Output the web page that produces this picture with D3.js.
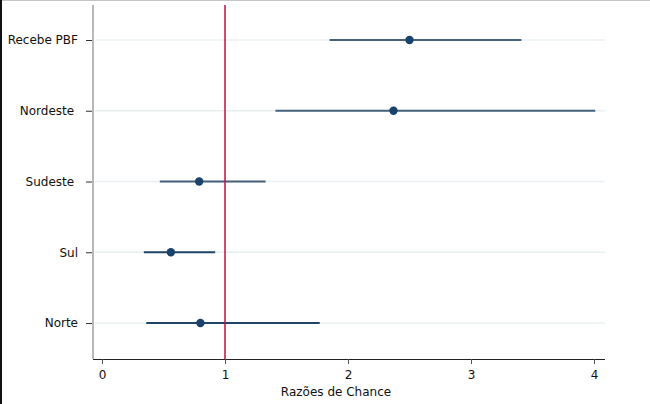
<!DOCTYPE html>
<html><head><meta charset="utf-8">
<script src="https://cdn.jsdelivr.net/npm/d3@7"></script>
<style>html,body{margin:0;padding:0;background:#fff;}svg{display:block;}text{white-space:pre;}</style>
</head><body>
<script>
const categories = ["Recebe PBF", "Nordeste ", "Sudeste ", "Sul", "Norte"];
const estimates = [2.50, 2.37, 0.79, 0.56, 0.80];
const lower = [1.85, 1.41, 0.47, 0.34, 0.36];
const upper = [3.41, 4.01, 1.33, 0.92, 1.77];
const xTicks = [0, 1, 2, 3, 4];
const refValue = 1;
const xTitle = "Razões de Chance";

const W = 650, H = 404;
const FONT = "DejaVu Sans, Verdana, sans-serif";
const svg = d3.select("body").append("svg").attr("width", W).attr("height", H);
svg.append("rect").attr("width", W).attr("height", H).attr("fill", "#fff");
// frame
svg.append("line").attr("x1", 0).attr("x2", W).attr("y1", 0.5).attr("y2", 0.5).attr("stroke", "#c4c4c4").attr("stroke-width", 1);
svg.append("line").attr("x1", 1).attr("x2", 1).attr("y1", 0).attr("y2", H).attr("stroke", "#111").attr("stroke-width", 2);

const x = d3.scaleLinear().domain([0, 4]).range([102, 594]);
const y = d3.scalePoint().domain(categories).range([40, 323]);
const plotLeft = 93, plotRight = 605, plotTop = 5, plotBottom = 359;

// gridlines
svg.append("g").selectAll("line").data(categories).join("line")
  .attr("x1", plotLeft + 2).attr("x2", plotRight)
  .attr("y1", d => y(d)).attr("y2", d => y(d))
  .attr("stroke", "#eaf0f2").attr("stroke-width", 1.5);

// y axis line
svg.append("line").attr("x1", plotLeft).attr("x2", plotLeft).attr("y1", plotTop).attr("y2", plotBottom)
  .attr("stroke", "#8a8a8a").attr("stroke-width", 1.2);

// y axis ticks and labels
const yAxis = d3.axisLeft(y).tickSize(6).tickPadding(8);
const gy = svg.append("g").attr("transform", `translate(${plotLeft},0)`).call(yAxis);
gy.select(".domain").remove();
gy.selectAll(".tick line").attr("stroke", "#333").attr("transform", "translate(-1,0)");
gy.selectAll(".tick text").attr("font-family", FONT).attr("font-size", 12).attr("fill", "#111")
  .attr("dx", -1);

// x axis
const xAxis = d3.axisBottom(x).tickValues(xTicks).tickSize(5).tickPadding(6).tickFormat(d3.format("d"));
const gx = svg.append("g").attr("transform", `translate(0,${plotBottom})`).call(xAxis);
gx.select(".domain").attr("d", `M${plotLeft},0.5H${plotRight}`).attr("stroke", "#222").attr("stroke-width", 1.2);
gx.selectAll(".tick line").attr("stroke", "#555");
gx.selectAll(".tick text").attr("font-family", FONT).attr("font-size", 12).attr("fill", "#111");

svg.append("text").attr("x", 336).attr("y", 396).attr("text-anchor", "middle")
  .attr("font-family", FONT).attr("font-size", 12).attr("fill", "#111").text(xTitle);

// CIs
const data = categories.map((c, i) => ({c, est: estimates[i], lo: lower[i], hi: upper[i]}));
svg.append("g").selectAll("line").data(data).join("line")
  .attr("x1", d => x(d.lo)).attr("x2", d => x(d.hi))
  .attr("y1", d => y(d.c)).attr("y2", d => y(d.c))
  .attr("stroke", (d, i) => i === 0 ? "#10305a" : (i < 3 ? "#44607a" : "#1e4468"))
  .attr("stroke-width", (d, i) => i === 0 ? 1.5 : 2);

// reference line
svg.append("line").attr("x1", x(refValue)).attr("x2", x(refValue)).attr("y1", plotTop).attr("y2", plotBottom)
  .attr("stroke", "#c0103f").attr("stroke-width", 1.5);

svg.append("g").selectAll("circle").data(data).join("circle")
  .attr("cx", d => x(d.est)).attr("cy", d => y(d.c)).attr("r", 4.2)
  .attr("fill", "#1a426b");
</script>
</body></html>
